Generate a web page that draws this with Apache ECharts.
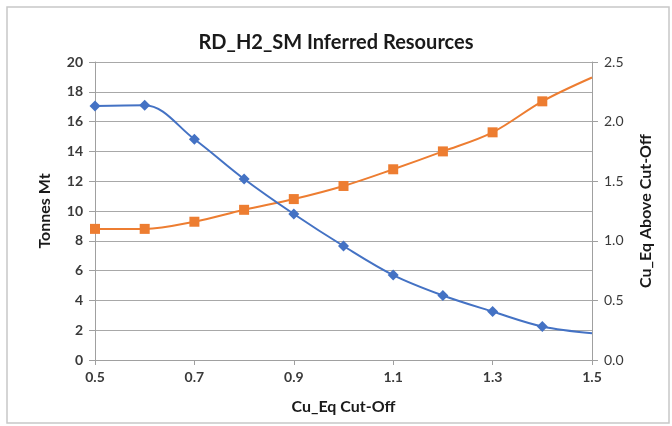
<!DOCTYPE html>
<html>
<head>
<meta charset="utf-8">
<script src="https://cdn.jsdelivr.net/npm/echarts@6/dist/echarts.min.js"></script>
<style>html,body{margin:0;padding:0;background:#fff;}#c{width:672px;height:426px;}</style>
</head>
<body>
<div id="c"></div>
<script>
var cutoffs = [0.5, 0.6, 0.7, 0.8, 0.9, 1.0, 1.1, 1.2, 1.3, 1.4, 1.5];
var tonnes = [17.05, 17.1, 14.82, 12.15, 9.8, 7.65, 5.7, 4.33, 3.25, 2.25, 1.8];
var grade = [1.1, 1.1, 1.16, 1.26, 1.35, 1.46, 1.6, 1.75, 1.91, 2.17, 2.37];
var markedCount = 10; // last point drawn without marker

var FONT = 'Lato, "Open Sans", sans-serif';
function pts(vals) {
  return cutoffs.map(function (x, i) {
    var d = { value: [x, vals[i]] };
    if (i >= markedCount) d.symbolSize = 0;
    return d;
  });
}
var chart = echarts.init(document.getElementById('c'));
chart.setOption({
  animation: false,
  backgroundColor: '#fff',
  graphic: [{
    type: 'rect', shape: { x: 7, y: 7, width: 662, height: 416 },
    style: { fill: 'none', stroke: '#c8c8c8', lineWidth: 1.5 }, silent: true, z: -1
  }],
  title: {
    text: 'RD_H2_SM Inferred Resources', left: 'center', top: 28,
    textStyle: { fontFamily: FONT, fontSize: 20, fontWeight: 'bold', color: '#1a1a1a' }
  },
  grid: { left: 95, right: 80, top: 62, bottom: 66 },
  xAxis: {
    type: 'value', min: 0.5, max: 1.5, interval: 0.2,
    name: 'Cu_Eq Cut-Off', nameLocation: 'middle', nameGap: 39,
    nameTextStyle: { fontFamily: FONT, fontSize: 16, fontWeight: 'bold', color: '#1a1a1a' },
    axisLine: { show: true, lineStyle: { color: '#a0a0a0', width: 1 } },
    axisTick: { show: true, length: 5, lineStyle: { color: '#a0a0a0' } },
    axisLabel: { fontFamily: FONT, fontSize: 14, fontWeight: 'bold', color: '#3a3a3a', margin: 10, formatter: function (v) { return v.toFixed(1); } },
    splitLine: { show: false }
  },
  yAxis: [{
    type: 'value', min: 0, max: 20, interval: 2,
    name: 'Tonnes Mt', nameLocation: 'middle', nameGap: 42, nameRotate: 90,
    nameTextStyle: { fontFamily: FONT, fontSize: 16, fontWeight: 'bold', color: '#1a1a1a' },
    axisLine: { show: true, lineStyle: { color: '#a0a0a0', width: 1 } },
    axisTick: { show: true, length: 6, lineStyle: { color: '#a0a0a0' } },
    axisLabel: { fontFamily: FONT, fontSize: 14, fontWeight: 'bold', color: '#3a3a3a', margin: 12 },
    splitLine: { show: true, lineStyle: { color: '#a8a8a8', width: 1 } }
  }, {
    type: 'value', min: 0, max: 2.5, interval: 0.5, position: 'right',
    name: 'Cu_Eq Above Cut-Off', nameLocation: 'middle', nameGap: 46, nameRotate: 90,
    nameTextStyle: { fontFamily: FONT, fontSize: 16, fontWeight: 'bold', color: '#1a1a1a' },
    axisLine: { show: true, lineStyle: { color: '#a0a0a0', width: 1 } },
    axisTick: { show: true, length: 6, inside: false, lineStyle: { color: '#a0a0a0' } },
    axisLabel: { fontFamily: FONT, fontSize: 14, color: '#3a3a3a', margin: 12, formatter: function (v) { return v.toFixed(1); } },
    splitLine: { show: false }
  }],
  series: [{
    type: 'line', yAxisIndex: 0, data: pts(tonnes), smooth: 0.35,
    symbol: 'diamond', symbolSize: 11,
    lineStyle: { color: '#4472C4', width: 2 }, itemStyle: { color: '#4472C4' }, z: 3
  }, {
    type: 'line', yAxisIndex: 1, data: pts(grade), smooth: 0.35,
    symbol: 'rect', symbolSize: 10,
    lineStyle: { color: '#ED7D31', width: 2 }, itemStyle: { color: '#ED7D31' }, z: 2
  }]
});
</script>
</body>
</html>
